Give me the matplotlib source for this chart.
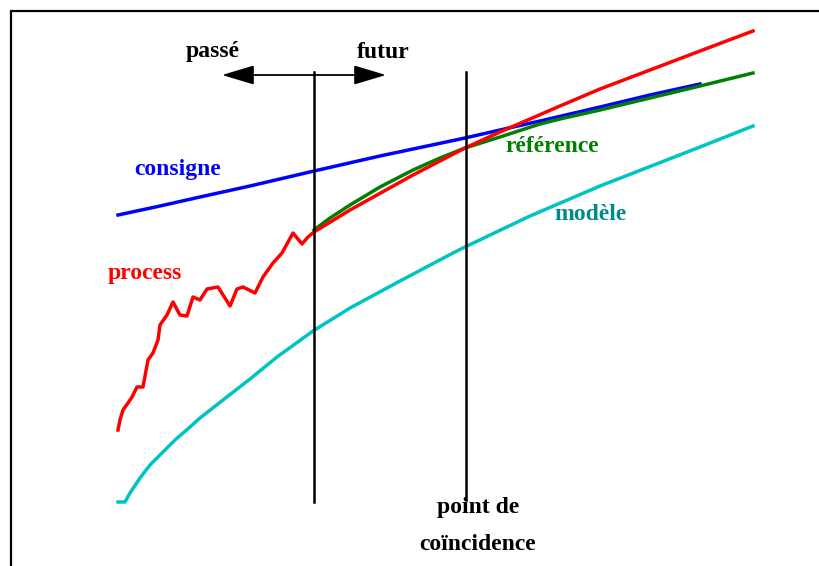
import matplotlib.pyplot as plt

# Horizon diagram in screen units (x to the right, y downward)
consigne_x = [118, 160, 200, 250, 314, 380, 465, 500, 540, 600, 650, 700]
consigne_y = [215, 206, 197, 186, 171, 156, 138, 130, 121, 107, 95, 84]

process_x = [118, 120, 123, 128, 132, 137, 143, 148, 153, 158, 160, 167, 173,
             180, 187, 193, 200, 207, 218, 230, 237, 243, 255, 263, 273, 282,
             293, 302, 308, 314, 350, 413, 465, 500, 530, 560, 600, 650, 700, 753]
process_y = [430, 420, 410, 403, 397, 387, 387, 360, 353, 340, 325, 315, 302,
             315, 316, 297, 300, 289, 287, 306, 289, 287, 293, 277, 263, 253,
             233, 244, 237, 232, 210, 175, 148, 132, 119, 106, 89, 70, 51, 31]

reference_x = [314, 330, 350, 380, 413, 440, 465, 500, 540, 560, 600, 650, 700, 753]
reference_y = [230, 218, 205, 187, 170, 158, 148, 137, 124, 119, 110, 98, 86, 73]

modele_x = [118, 125, 130, 140, 150, 160, 175, 190, 200, 223, 250, 277, 313,
            350, 400, 453, 465, 530, 600, 700, 753]
modele_y = [502, 502, 493, 478, 465, 455, 440, 427, 418, 400, 379, 357, 331,
            308, 281, 253, 247, 216, 186, 147, 126]

present_x = 314
coincidence_x = 466

FONT = dict(family="Liberation Serif", weight="bold", fontsize=17)

fig = plt.figure(figsize=(8.19, 5.66), dpi=100)
ax = fig.add_axes([0, 0, 1, 1])
ax.set_xlim(0, 819)
ax.set_ylim(566, 0)
ax.axis("off")

# frame (only left and top edges fall inside the image)
ax.plot([11, 11, 819], [566, 11, 11], color="black", lw=1.6, solid_joinstyle="miter")

ax.plot(consigne_x, consigne_y, color="#0000ff", lw=2.5)
ax.plot(modele_x, modele_y, color="#00c4c4", lw=2.5)
ax.plot(reference_x, reference_y, color="#008000", lw=2.5)
ax.plot(process_x, process_y, color="#ff0000", lw=2.5)

ax.plot([present_x, present_x], [72, 502], color="black", lw=1.8)
ax.plot([coincidence_x, coincidence_x], [72, 500], color="black", lw=1.8)

ax.annotate("", xy=(222, 75), xytext=(386, 75),
            arrowprops=dict(arrowstyle="<|-|>,head_length=1.0,head_width=0.3",
                            mutation_scale=20, color="black", lw=1.3,
                            shrinkA=0, shrinkB=0))

ax.text(213, 52, "passé", ha="center", va="center", color="black", **FONT)
ax.text(383, 52, "futur", ha="center", va="center", color="black", **FONT)
ax.text(178, 169, "consigne", ha="center", va="center", color="#0000ff", **FONT)
ax.text(145, 273, "process", ha="center", va="center", color="#ff0000", **FONT)
ax.text(552, 146, "référence", ha="center", va="center", color="#008000", **FONT)
ax.text(590, 215, "modèle", ha="center", va="center", color="#008b8b", **FONT)
ax.text(478, 508, "point de", ha="center", va="center", color="black", **FONT)
ax.text(478, 545, "coïncidence", ha="center", va="center", color="black", **FONT)

fig.savefig("out.png", dpi=100)
